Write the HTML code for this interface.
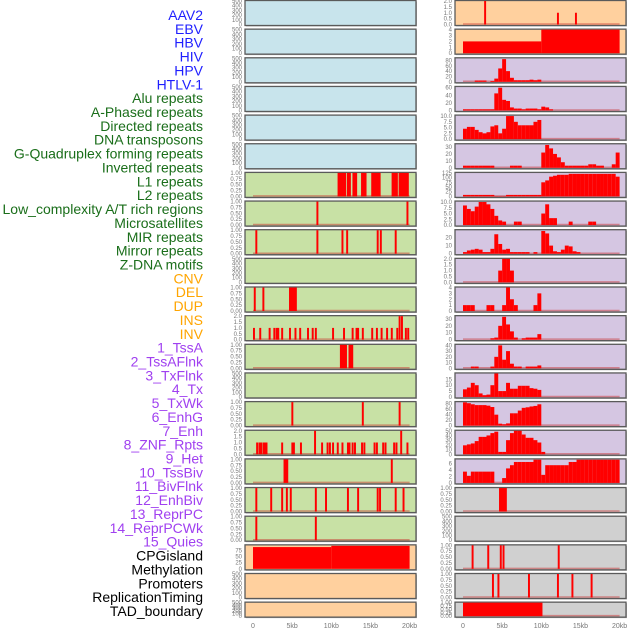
<!DOCTYPE html>
<html><head><meta charset="utf-8"><style>
html,body{margin:0;padding:0;background:#fff;width:630px;height:630px;overflow:hidden}
svg{display:block}
</style></head><body>
<svg id="c" width="630" height="630" xmlns="http://www.w3.org/2000/svg"></svg>
<script>
// ----- labels -----
const labels = ["AAV2","EBV","HBV","HIV","HPV","HTLV-1","Alu repeats","A-Phased repeats","Directed repeats","DNA transposons","G-Quadruplex forming repeats","Inverted repeats","L1 repeats","L2 repeats","Low_complexity A/T rich regions","Microsatellites","MIR repeats","Mirror repeats","Z-DNA motifs","CNV","DEL","DUP","INS","INV","1_TssA","2_TssAFlnk","3_TxFlnk","4_Tx","5_TxWk","6_EnhG","7_Enh","8_ZNF_Rpts","9_Het","10_TssBiv","11_BivFlnk","12_EnhBiv","13_ReprPC","14_ReprPCWk","15_Quies","CPGisland","Methylation","Promoters","ReplicationTiming","TAD_boundary"];
const labelGroups = [6,13,5,15,5];
const groupColors = ["#1f1fff","#1a6e1a","#ffa500","#a040f0","#000000"];
const xTicks = [0,5,10,15,20];
const xTickLabels = ["0","5kb","10kb","15kb","20kb"];

// ----- left column panels (rows 0..21) -----
const leftBg = ["b","b","b","b","b","b","g","g","g","g","g","g","g","g","g","g","g","g","g","o","o","o"];
const leftMax = [500,500,500,500,500,500,1,1,1,500,1,2,1,500,1,2,1,1,1,95,500,500];
const l6Intervals = [[10.8,11.9],[12.0,12.5],[12.7,13.3],[13.8,14.5],[15.1,16.3],[17.7,18.5],[18.6,19.9]];
const l7Lines = [8.1,19.6];
const l8Lines = [0.3,8.1,11.3,11.9,15.8,16.2,18.1];
const l10Lines = [0.1,1.2];
const l10Intervals = [[4.6,5.6]];
const l11Pos = [0,0.8,2,2.6,2.9,3.1,3.6,4.6,5.3,5.9,6.9,7.5,7.9,10.1,11.5,12.6,13.1,13.3,13.9,15.1,15.7,16.3,17.0,17.6,18.3,18.6,18.9,19.4,19.7];
const l11Vals = [1,1,1,1,1,1,1,1,1,1,1,1,1,1,1,1,1,1,1,1,1,1,1,1,1,2,2,1,1];
const l12Intervals = [[11.1,12.0],[12.2,12.8]];
const l14Lines = [4.9,13.9,18.6];
const l15Pos = [0.4,0.7,0.9,1.2,1.4,1.6,3.6,4.9,5.1,6.0,7.8,8.7,9.4,9.7,10.1,10.7,11.3,12.0,12.2,12.6,12.9,13.8,14.1,15.4,15.7,16.5,16.8,17.9,18.2,18.8,19.6];
const l15Vals = [1,1,1,1,1,1,1,1,1,1,2,1,1,1,1,1,1,1,1,1,1,1,1,1,1,1,1,1,1,2,1];
const l16Intervals = [[3.9,4.5]];
const l16Lines = [17.6];
const l17Lines = [0.3,2.2,3.6,4.2,4.7,7.9,9.2,12.0,13.3,15.8,16.1,18.1,19.1];
const l18Lines = [0.3,7.9];
const l19Intervals = [[0,10],[10,20]];
const l19Vals = [88,93];

// ----- right column panels -----
const rightBg = ["o","o","p","p","p","p","p","p","p","p","p","p","p","p","p","p","p","y","y","y","y","y"];
const rightMax = [2,4,88,62,10.2,34,125,10.2,29,2,4,34,41,20,86,50,7.3,1,500,1,1,1];
const r0Pos = [2.7,12.0,14.3];
const r0Vals = [2,1,1];
const r1Intervals = [[0,10],[10,20]];
const r1Vals = [2,4];
const hbv = [0,0,0,5,5,5,0,3,12,50,85,40,15,6,6,6,6,8,6,8];
const hiv = [3,3,3,3,3,3,3,3,45,60,28,25,8,5,5,3,5,5,5,3,10,8,3];
const hpv = [4.5,5.3,5.3,4,3,2.5,3,5.5,6,2.5,4.5,10,10,7.5,6,6,6,6,7.5,8.3];
const htlv = [3,3,3,3,3,3,3,3,0,0,0,0,3,3,3,0,0,0,0,0,22,33,28,20,15,8,3,3,3,3,3,3,5,5,3,3,0,0,5,22];
const alu = [8,8,8,8,8,8,8,8,2,2,2,8,8,8,8,8,8,8,8,8,75,85,105,110,115,115,115,120,120,120,120,120,120,120,120,120,120,120,120,105];
const aphased = [8.5,7,6,8,10,10,9,7,4,2,1.5,0,0,1.5,1.5,0,0,0,0,0,5,9,3,3,0,0,0,1.5,0,0,0,0,1.5,1.5];
const directed = [2,4,5,6,5,2,2,6,24,12,5,6,2,2,2,2,2,0,2,0,28,25,10,3,2,5,10,9,3,2];
const dnaTrans = [0,0,0,0,0,0,0,0,0,1,2,2,1];
const gquad = [1,1,1,0,0,0,1,1,0,0,1,4,2,1,0,0,0,0,1,3];
const inverted = [0,0,0,0,0,0,0,2,3,20,33,22,12,3,0,2,3,3,3,8];
const l1rep = [0,0,3,3,0,0,0,3,20,40,15,30,8,3,3,0,3,3,3,5];
const l2rep = [6.5,8,12,10,3,1.5,2,10,20,5,5,12,7,7,9.5,9.5,9.5,7.5,7,6];
const lowc = [85,82,78,75,75,75,73,68,40,7,5,8,45,45,55,65,67,70,72,78];
const micro = [19,21,23,28,37,37,40,45,48,5,5,30,45,50,50,42,35,35,30,25,5];
const mir = [3.5,2.2,3.5,3.5,3.5,3.5,3.5,3.5,0,0,1.5,4.5,5.5,6.5,6.5,6.5,6.5,6.5,7.2,7.2,2.5,5.5,5.5,5.5,5.5,5.5,5.5,6.5,6.5,7.2,7.2,7.2,7.2,7.2,7.2,7.2,7.2,7.2,7.2,7.2];
const r17Intervals = [[4.6,5.6]];
const r19Lines = [1.1,3.1,4.7,5.05,12.1];
const r20Lines = [3.7,4.4,8.3,12,13.85,16.3];
const r21Intervals = [[0,10.15]];

const rightHists = {2:hbv,3:hiv,4:hpv,5:htlv,6:alu,7:aphased,8:directed,9:dnaTrans,10:gquad,11:inverted,12:l1rep,13:l2rep,14:lowc,15:micro,16:mir};

// ----- drawing -----
const NS = "http://www.w3.org/2000/svg";
const svg = document.getElementById('c');
const bgColors = {b:"#c8e4ec",g:"#c8e1a5",o:"#ffd09e",p:"#d5c6e2",y:"#d0d0d0"};
const colX = [245,455];
const panelW = 171;
const rowTop = r => 0.5 + r*28.65;
const rowH = r => r===21 ? 15 : 25;
const xScale = (col,kb) => colX[col] + 8 + kb*7.83;
function mk(tag, attrs, parent){
  const e = document.createElementNS(NS, tag);
  for (const k in attrs) e.setAttribute(k, attrs[k]);
  (parent||svg).appendChild(e);
  return e;
}
function yScale(row,max,v){ const t=rowTop(row), h=rowH(row); return t+h-1 - (v/max)*(h-1.5); }
function tickSet(max){
  if (max===500) return [0,100,200,300,400,500];
  if (max===1) return [0,0.25,0.5,0.75,1];
  if (max===2) return [0,0.5,1,1.5,2];
  if (max===4) return [0,1,2,3,4];
  if (max===95) return [0,25,50,75];
  if (max===88) return [0,20,40,60,80];
  if (max===62) return [0,20,40,60];
  if (max===10.2) return [0,2.5,5,7.5,10];
  if (max===34) return [0,10,20,30];
  if (max===125) return [0,25,50,75,100,125];
  if (max===29) return [0,10,20];
  if (max===41) return [0,10,20,30,40];
  if (max===20) return [0,5,10,15];
  if (max===86) return [0,20,40,60,80];
  if (max===50) return [0,10,20,30,40,50];
  if (max===7.3) return [0,2,4,6];
  return [0,max];
}
function fmt(max,v){
  if (max===1) return v.toFixed(2);
  if (max===2||max===10.2) return v.toFixed(1);
  return String(v);
}
function drawPanel(col,row,bg,max){
  const g = mk('g',{});
  
  
  const t=rowTop(row), h=rowH(row);
  mk('rect',{x:colX[col]+1,y:t+1,width:panelW,height:h,fill:'#b8b8b8'},g);
  mk('rect',{x:colX[col],y:t,width:panelW,height:h,fill:bgColors[bg],stroke:'#5a5a5a','stroke-width':1.3},g);
  // ticks
  tickSet(max).forEach(v=>{
    const tx = mk('text',{x:colX[col]-3,y:yScale(row,max,v)+2,'font-size':6,'text-anchor':'end',fill:'#777','font-family':'Liberation Sans, sans-serif'},g);
    tx.textContent = fmt(max,v);
  });
  if (max!==500 && !(col===0 && row===19)){
    mk('line',{x1:xScale(col,0),x2:xScale(col,20),y1:t+h-1.5,y2:t+h-1.5,stroke:'rgba(200,40,40,0.45)','stroke-width':1.5},g);
  }
  return g;
}
function bar(g,col,row,max,k0,k1,v,name){
  const y=yScale(row,max,v), yb=rowTop(row)+rowH(row)-1;
  const r = mk('rect',{x:xScale(col,k0),y:y,width:Math.max(xScale(col,k1)-xScale(col,k0),1.2),height:Math.max(yb-y,0),fill:'#ff0000'},g);
  
  
}
function lines(g,col,row,max,arr,vals,name){ arr.forEach((p,i)=>bar(g,col,row,max,p,p+0.25,vals?vals[i]:max,name)); }
function ints(g,col,row,max,arr,vals,name){ arr.forEach((p,i)=>bar(g,col,row,max,p[0],p[1],vals?vals[i]:max,name)); }
function hist(g,col,row,max,arr,name){ arr.forEach((v,i)=>{ if(v>0) bar(g,col,row,max,i*0.5,i*0.5+0.5,v,name); }); }

const LG=[], RG=[];
for (let r=0;r<22;r++){ LG.push(drawPanel(0,r,leftBg[r],leftMax[r])); RG.push(drawPanel(1,r,rightBg[r],rightMax[r])); }
ints(LG[6],0,6,1,l6Intervals,null,'l1-region');
lines(LG[7],0,7,1,l7Lines,null,'l2-mark');
lines(LG[8],0,8,1,l8Lines,null,'mark');
lines(LG[10],0,10,1,l10Lines,null,'mark');
ints(LG[10],0,10,1,l10Intervals,null,'region');
lines(LG[11],0,11,2,l11Pos,l11Vals,'mark');
ints(LG[12],0,12,1,l12Intervals,null,'region');
lines(LG[14],0,14,1,l14Lines,null,'mark');
lines(LG[15],0,15,2,l15Pos,l15Vals,'mark');
ints(LG[16],0,16,1,l16Intervals,null,'region');
lines(LG[16],0,16,1,l16Lines,null,'mark');
lines(LG[17],0,17,1,l17Lines,null,'mark');
lines(LG[18],0,18,1,l18Lines,null,'mark');
ints(LG[19],0,19,95,l19Intervals,l19Vals,'cpg-region');
lines(RG[0],1,0,2,r0Pos,r0Vals,'aav2-mark');
ints(RG[1],1,1,4,r1Intervals,r1Vals,'ebv-region');
for (const k in rightHists){ hist(RG[k],1,+k,rightMax[k],rightHists[k],'hist-bar'); }
ints(RG[17],1,17,1,r17Intervals,null,'region');
lines(RG[19],1,19,1,r19Lines,null,'mark');
lines(RG[20],1,20,1,r20Lines,null,'mark');
ints(RG[21],1,21,1,r21Intervals,null,'tad-region');

// x axis ticks
[0,1].forEach(col=>{
  xTicks.forEach((v,i)=>{
    const t = mk('text',{x:xScale(col,v),y:628,'font-size':7,'text-anchor':'middle',fill:'#777','font-family':'Liberation Sans, sans-serif'});
    
    
    t.textContent = xTickLabels[i];
  });
});
// labels
let idx=0;
labelGroups.forEach((n,gi)=>{
  for(let j=0;j<n;j++){
    const t = mk('text',{x:203,y:15+idx*13.86+5,'font-size':14,'text-anchor':'end',fill:groupColors[gi],'font-family':'Liberation Sans, sans-serif'});
    
    
    t.textContent = labels[idx];
    idx++;
  }
});
</script>
</body></html>
